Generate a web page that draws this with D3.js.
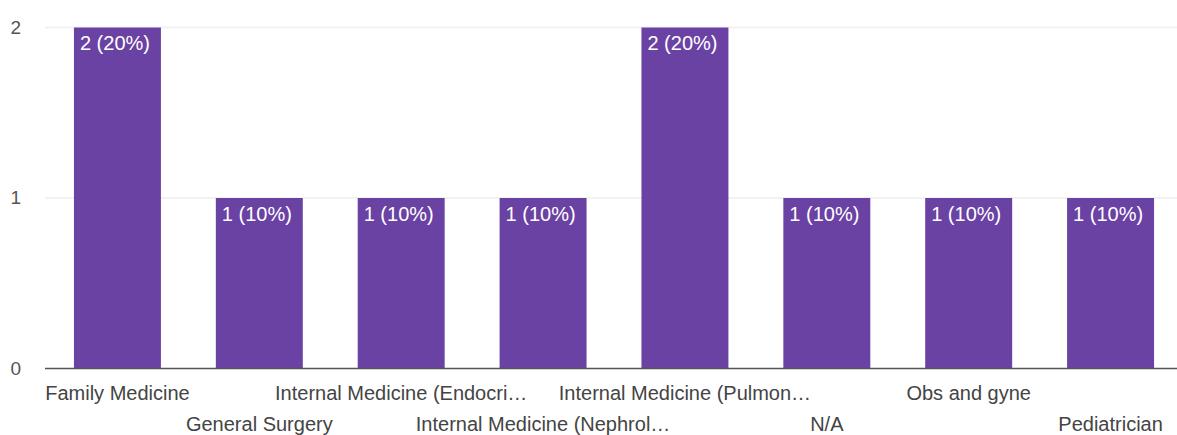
<!DOCTYPE html>
<html>
<head>
<meta charset="utf-8">
<script src="https://cdn.jsdelivr.net/npm/d3@7"></script>
<style>
  html, body { margin: 0; padding: 0; background: #fff; }
  svg { display: block; font-family: "Liberation Sans", Arial, sans-serif; }
</style>
</head>
<body>
<svg id="chart" width="1177" height="435"></svg>
<script>
// Responses by specialty
const categories = [
  "Family Medicine",
  "General Surgery",
  "Internal Medicine (Endocri…",
  "Internal Medicine (Nephrol…",
  "Internal Medicine (Pulmon…",
  "N/A",
  "Obs and gyne",
  "Pediatrician"
];
const counts = [2, 1, 1, 1, 2, 1, 1, 1];
const percentLabels = ["20%", "10%", "10%", "10%", "20%", "10%", "10%", "10%"];
const yTicks = [0, 1, 2];

const svg = d3.select("#chart");
const W = 1177;

const x = d3.scaleBand()
  .domain(categories)
  .range([46.5, 1181.5])
  .paddingInner(0.387)
  .paddingOuter(0.1935);

const y = d3.scaleLinear()
  .domain([0, 2])
  .range([368.5, 27.5]);

// faint gridlines
svg.append("g")
  .selectAll("line")
  .data(yTicks.filter(d => d > 0))
  .join("line")
  .attr("x1", 45).attr("x2", W)
  .attr("y1", d => y(d)).attr("y2", d => y(d))
  .attr("stroke", "#f2f2f2")
  .attr("stroke-width", 2);

// y tick labels
const yAxis = d3.axisLeft(y).tickValues(yTicks).tickFormat(d3.format("d")).tickSize(0).tickPadding(0);
const gy = svg.append("g").attr("transform", "translate(21,0)").call(yAxis);
gy.select(".domain").remove();
gy.selectAll("text")
  .attr("fill", "#555")
  .attr("font-size", 19)
  .attr("dy", "0.3em")
  .attr("font-family", "Liberation Sans, Arial, sans-serif");

// bars
svg.append("g")
  .selectAll("rect")
  .data(categories)
  .join("rect")
  .attr("x", d => x(d))
  .attr("width", x.bandwidth())
  .attr("y", (d, i) => y(counts[i]))
  .attr("height", (d, i) => y(0) - y(counts[i]))
  .attr("fill", "#6a42a3");

// value labels inside bars
svg.append("g")
  .selectAll("text")
  .data(categories)
  .join("text")
  .attr("x", d => x(d) + 6)
  .attr("y", (d, i) => y(counts[i]) + 22.5)
  .attr("fill", "#fff")
  .attr("font-size", 20)
  .text((d, i) => `${counts[i]} (${percentLabels[i]})`);

// baseline
svg.append("line")
  .attr("x1", 45).attr("x2", W)
  .attr("y1", y(0)).attr("y2", y(0))
  .attr("stroke", "#555")
  .attr("stroke-width", 1.5);

// category labels, staggered in two rows
const xAxis = d3.axisBottom(x).tickSize(0).tickPadding(0);
const gx = svg.append("g").attr("transform", `translate(0,${y(0)})`).call(xAxis);
gx.select(".domain").remove();
gx.selectAll("text")
  .attr("fill", "#444")
  .attr("font-size", 20)
  .attr("font-family", "Liberation Sans, Arial, sans-serif")
  .attr("dy", null)
  .attr("y", (d, i) => i % 2 === 0 ? 31.5 : 62.5);
</script>
</body>
</html>
